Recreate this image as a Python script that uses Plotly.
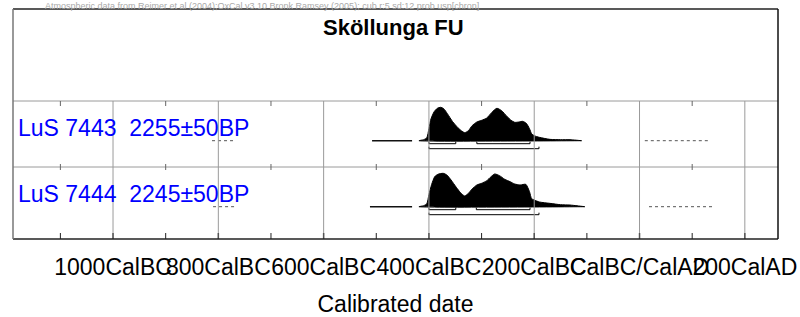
import plotly.graph_objects as go

# ---------------- data ----------------
tick_years = [-1000, -800, -600, -400, -200, 0, 200]
tick_labels = ["1000CalBC", "800CalBC", "600CalBC", "400CalBC", "200CalBC", "CalBC/CalAD", "200CalAD"]
minor_years = [-1100, -900, -700, -500, -300, -100, 100]

samples = ["LuS 7443", "LuS 7444"]
bp_labels = ["2255±50BP", "2245±50BP"]

# calibrated probability profiles (relative height, 0..1)
d1_years = [-419, -410, -404, -400, -396, -390, -384, -378, -372, -365, -355, -345, -337, -332,
            -325, -318, -309, -300, -290, -281, -271, -262, -252, -244, -237, -229, -222, -215,
            -209, -205, -200, -190, -170, -150, -132, -110]
d1_prob = [0.0, 0.03, 0.09, 0.36, 0.66, 0.87, 0.97, 1.0, 0.96, 0.81, 0.57, 0.39, 0.28, 0.24,
           0.30, 0.45, 0.56, 0.61, 0.68, 0.84, 0.97, 0.90, 0.73, 0.61, 0.55, 0.56, 0.58, 0.52,
           0.36, 0.21, 0.15, 0.10, 0.04, 0.03, 0.03, 0.0]

d2_years = [-419, -410, -404, -400, -395, -389, -383, -373, -366, -358, -348, -340, -332,
            -325, -318, -309, -300, -290, -282, -275, -266, -256, -246, -237, -227, -216,
            -209, -205, -200, -190, -170, -150, -132, -104]
d2_prob = [0.0, 0.03, 0.09, 0.36, 0.66, 0.90, 0.97, 1.0, 0.95, 0.80, 0.58, 0.42, 0.32,
           0.40, 0.53, 0.65, 0.70, 0.78, 0.90, 0.98, 0.93, 0.82, 0.75, 0.68, 0.65, 0.67,
           0.45, 0.24, 0.20, 0.14, 0.10, 0.06, 0.05, 0.0]

# 68.2% and 95.4% ranges (years)
sig1_ranges = [[(-400, -349), (-309, -208)], [(-400, -349), (-310, -208)]]
sig2_ranges = [[(-400, -191)], [(-400, -191)]]

# low-probability tail segments (years)
tail_solid = [(-508, -432), (-512, -432)]
tail_dot_left = [(-812, -772), (-810, -768)]
tail_dot_right = [(10, 130), (18, 139)]

# ---------------- layout constants ----------------
X_MIN, X_MAX = -1190, 263
Y_MAX = 230
row_tops = [138, 72]
BASE_OFF = 39.7
PEAK_H = 33.4
FONT = "Liberation Sans, Arial, sans-serif"
GRID = "#9a9a9a"

fig = go.Figure()
shapes = []
annotations = []

# grid: horizontal row separators and vertical major lines
for rt in row_tops:
    shapes.append(dict(type="line", xref="paper", yref="y", x0=0, x1=1, y0=rt, y1=rt,
                       line=dict(color=GRID, width=1)))
for ty in tick_years:
    shapes.append(dict(type="line", xref="x", yref="y", x0=ty, x1=ty, y0=0, y1=row_tops[0],
                       line=dict(color=GRID, width=1)))
for my in minor_years:
    shapes.append(dict(type="line", xref="x", yref="y", x0=my, x1=my, y0=row_tops[0] - 5, y1=row_tops[0],
                       line=dict(color="#666", width=1)))
    shapes.append(dict(type="line", xref="x", yref="y", x0=my, x1=my, y0=row_tops[1] - 3, y1=row_tops[1] + 3,
                       line=dict(color="#666", width=1)))
    shapes.append(dict(type="line", xref="x", yref="y", x0=my, x1=my, y0=0, y1=6,
                       line=dict(color="#222", width=1)))
for ty in tick_years:
    shapes.append(dict(type="line", xref="x", yref="y", x0=ty, x1=ty, y0=0, y1=6,
                       line=dict(color="#555", width=1.5)))

# frame
shapes.append(dict(type="line", xref="paper", yref="paper", x0=0, x1=1, y0=1, y1=1, line=dict(color="#222", width=1.5)))
shapes.append(dict(type="line", xref="paper", yref="paper", x0=0, x1=1, y0=0, y1=0, line=dict(color="#222", width=1.5)))
shapes.append(dict(type="line", xref="paper", yref="paper", x0=0, x1=0, y0=0, y1=1, line=dict(color="#777", width=1.5)))
shapes.append(dict(type="line", xref="paper", yref="paper", x0=1, x1=1, y0=0, y1=1, line=dict(color="#111", width=1.5)))

profiles = [(d1_years, d1_prob), (d2_years, d2_prob)]
for i, (yrs, pr) in enumerate(profiles):
    base = row_tops[i] - BASE_OFF
    xs = list(yrs) + [yrs[-1], yrs[0]]
    ys = [base + p * PEAK_H for p in pr] + [base, base]
    fig.add_trace(go.Scatter(x=xs, y=ys, mode="lines", fill="toself", fillcolor="black",
                             line=dict(color="black", width=1, shape="spline", smoothing=0.6),
                             hoverinfo="skip", showlegend=False))
    # range brackets
    for ranges, off in ((sig1_ranges[i], 3.0), (sig2_ranges[i], 8.0)):
        bx, by = [], []
        lvl = base - off
        for a, b in ranges:
            bx += [a, a, b, b, None]
            by += [lvl + 2, lvl, lvl, lvl + 2, None]
        fig.add_trace(go.Scatter(x=bx, y=by, mode="lines", line=dict(color="black", width=1),
                                 hoverinfo="skip", showlegend=False))
    # tails
    a, b = tail_solid[i]
    fig.add_trace(go.Scatter(x=[a, b], y=[base, base], mode="lines", line=dict(color="#111", width=1.5),
                             hoverinfo="skip", showlegend=False))
    for a, b in (tail_dot_left[i], tail_dot_right[i]):
        fig.add_trace(go.Scatter(x=[a, b], y=[base, base], mode="lines",
                                 line=dict(color="#555", width=1, dash="dot"),
                                 hoverinfo="skip", showlegend=False))
    annotations.append(dict(x=X_MIN + 6, y=row_tops[i] - 27, xref="x", yref="y",
                            text=samples[i] + "\u00a0\u00a0" + bp_labels[i], showarrow=False,
                            xanchor="left", yanchor="middle",
                            font=dict(family=FONT, size=23, color="#0000ff")))

annotations.append(dict(x=0.497, y=Y_MAX - 18, xref="paper", yref="y", text="<b>Sköllunga FU</b>",
                        showarrow=False, xanchor="center", yanchor="middle",
                        font=dict(family=FONT, size=22, color="black")))
annotations.append(dict(x=0.04, y=1.0, xref="paper", yref="paper", yshift=9,
                        text="Atmospheric data from Reimer et al (2004);OxCal v3.10 Bronk Ramsey (2005); cub r:5 sd:12 prob usp[chron]",
                        showarrow=False, xanchor="left", yanchor="top", borderpad=0,
                        font=dict(family=FONT, size=9, color="#aaa")))

fig.update_layout(
    width=800, height=317,
    margin=dict(l=13, r=22, t=9, b=78, autoexpand=False),
    paper_bgcolor="white", plot_bgcolor="white",
    shapes=shapes, annotations=annotations,
    xaxis=dict(range=[X_MIN, X_MAX], showgrid=False, zeroline=False, showline=False,
               tickmode="array", tickvals=tick_years, ticktext=tick_labels, ticks="",
               tickangle=0, automargin=False, ticklabelstandoff=12,
               tickfont=dict(family=FONT, size=23, color="black"),
               title=dict(text="Calibrated date", font=dict(family=FONT, size=23, color="black"), standoff=21)),
    yaxis=dict(range=[0, Y_MAX], visible=False, fixedrange=True),
    font=dict(family=FONT),
)

fig.write_html("out.html", config={"displayModeBar": False},
               post_script="document.body.style.margin='0';document.body.style.overflow='hidden';")
